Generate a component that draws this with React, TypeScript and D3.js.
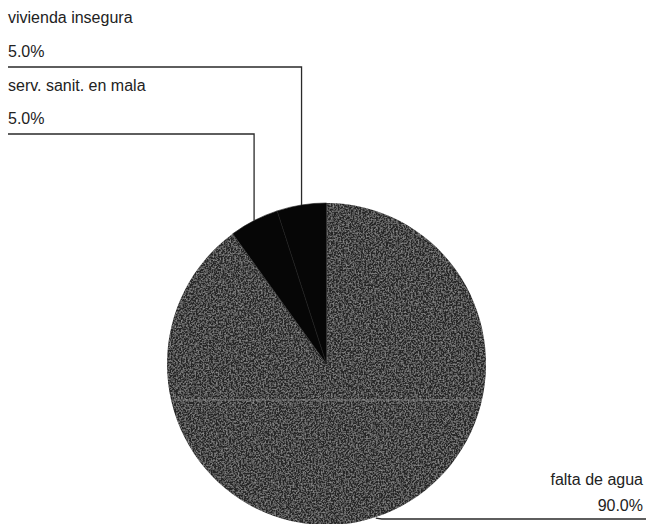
import * as d3 from 'd3';

const LABELS = ['falta de agua', 'serv. sanit. en mala', 'vivienda insegura'];
const VALUES = [90, 5, 5];
const FILLS = ['#262626', '#060606', '#060606'];

const W = 646;
const H = 524;
const CX = 326.5;
const CY = 364;
const RX = 159.5;
const RY = 161;

export default function App() {
  const total = d3.sum(VALUES);
  const pct = d3.format('.1f');
  const pie = d3.pie<number>().sort(null).startAngle(0).endAngle(2 * Math.PI);
  const arcs = pie(VALUES);
  const arc = d3.arc<d3.PieArcDatum<number>>().innerRadius(0).outerRadius(RX);

  // point on the (slightly tall) pie rim at a given angle
  const rim = (a: number) => [CX + RX * Math.sin(a), CY - RY * Math.cos(a)];

  const font = { fontFamily: '"Liberation Sans", Arial, sans-serif', fontSize: 16, fill: '#222' };
  const line = { stroke: '#2a2a2a', strokeWidth: 1.3, fill: 'none' };

  // label rows on the left for the small slices, bottom right for the big one
  const leftRows = [
    { i: 2, nameY: 23, valY: 57, lineY: 67 },
    { i: 1, nameY: 91, valY: 124, lineY: 134 },
  ];

  return (
    <svg
      width={W}
      height={H}
      style={{ position: 'absolute', left: 0, top: 0, background: '#fff' }}
    >
      <defs>
        <filter id="grain" x="0" y="0" width="1" height="1">
          <feTurbulence type="fractalNoise" baseFrequency="0.6" numOctaves="2" seed="4" result="noise" />
          <feColorMatrix
            in="noise"
            type="matrix"
            values="0 0 0 0 0.55  0 0 0 0 0.55  0 0 0 0 0.55  1.1 0 0 0 -0.45"
            result="specks"
          />
          <feComposite in="specks" in2="SourceGraphic" operator="in" result="clipped" />
          <feMerge>
            <feMergeNode in="SourceGraphic" />
            <feMergeNode in="clipped" />
          </feMerge>
        </filter>
        <clipPath id="pieClip">
          <ellipse cx={CX} cy={CY} rx={RX} ry={RY} />
        </clipPath>
      </defs>

      <g transform={`translate(${CX},${CY}) scale(1,${RY / RX})`}>
        {arcs.map((d, i) => (
          <path
            key={LABELS[i]}
            d={arc(d) || ''}
            fill={FILLS[i]}
            stroke={i === 0 ? 'none' : '#1c1c1c'}
            strokeWidth={0.6}
            filter={i === 0 ? 'url(#grain)' : undefined}
          />
        ))}
      </g>

      {/* faint scan line across the pie */}
      <line
        x1={CX - RX}
        x2={CX + RX}
        y1={400}
        y2={400}
        stroke="#9a9a9a"
        strokeOpacity={0.7}
        strokeWidth={1}
        clipPath="url(#pieClip)"
      />

      {leftRows.map(r => {
        const d = arcs[r.i];
        const [px, py] = rim((d.startAngle + d.endAngle) / 2);
        return (
          <g key={LABELS[r.i]}>
            <text x={8} y={r.nameY} {...font}>{LABELS[r.i]}</text>
            <text x={8} y={r.valY} {...font}>{pct((VALUES[r.i] / total) * 100)}%</text>
            <polyline points={`8,${r.lineY} ${px},${r.lineY} ${px},${py}`} {...line} />
          </g>
        );
      })}

      {(() => {
        const d = arcs[0];
        const [px, py] = rim((d.startAngle + d.endAngle) / 2);
        return (
          <g>
            <text x={643} y={485} textAnchor="end" {...font}>{LABELS[0]}</text>
            <text x={643} y={511} textAnchor="end" {...font}>{pct((VALUES[0] / total) * 100)}%</text>
            <polyline points={`${px},${py + 1} ${px + 6},519 ${W},519`} {...line} />
          </g>
        );
      })()}
    </svg>
  );
}
